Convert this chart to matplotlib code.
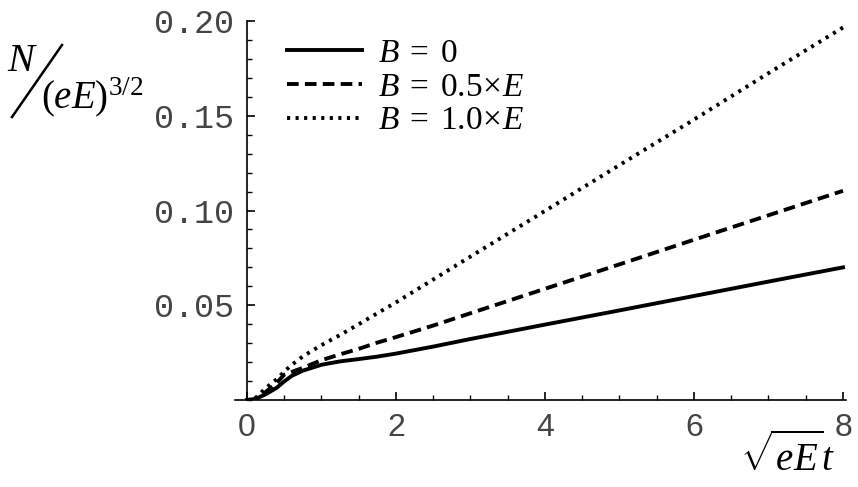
import matplotlib
matplotlib.use("Agg")
import matplotlib.pyplot as plt
from matplotlib.lines import Line2D
from matplotlib.ticker import MultipleLocator

# data
t = [0, 0.1, 0.25, 0.4, 0.5, 0.6, 0.75, 1.0, 1.25, 1.5, 1.75, 2.0, 2.5, 3, 4, 5, 6, 7, 8]
n_b0 = [0, 0.0003, 0.003, 0.0065, 0.0098, 0.0127, 0.0155, 0.0186, 0.0204, 0.0216,
        0.0229, 0.0245, 0.0282, 0.0322, 0.0398, 0.0473, 0.0549, 0.0625, 0.070]
n_b05 = [0, 0.0004, 0.0042, 0.009, 0.0134, 0.0148, 0.017, 0.021, 0.0241, 0.027,
         0.0303, 0.0332, 0.0393, 0.0458, 0.0587, 0.0716, 0.0846, 0.0975, 0.1104]
n_b10 = [0, 0.0005, 0.0062, 0.011, 0.015, 0.0185, 0.023, 0.029, 0.0343, 0.040,
         0.0458, 0.0515, 0.0636, 0.0757, 0.0998, 0.124, 0.148, 0.1725, 0.1966]
labels = [r"$B\;=\;0$", r"$B\;=\;0.5\!\times\! E$", r"$B\;=\;1.0\!\times\! E$"]
xticks = [0, 2, 4, 6, 8]
yticks = [0.05, 0.10, 0.15, 0.20]

plt.rcParams["mathtext.fontset"] = "custom"
plt.rcParams["mathtext.rm"] = "Liberation Serif"
plt.rcParams["mathtext.it"] = "Liberation Serif:italic"

fig = plt.figure(figsize=(8.58, 4.87), dpi=100)
ax = fig.add_axes([0.2879 - 12 / 858, 0.1786, 0.6946 + 15 / 858, 0.7782])

lw = 2.8
ax.plot(t, n_b0, color="black", lw=lw, label=labels[0])
ax.plot(t, n_b05, color="black", lw=lw, linestyle=(0, (3.0, 1.6)), label=labels[1])
ax.plot(t, n_b10, color="black", lw=lw, linestyle=(0, (0.8, 1.4)), label=labels[2])

ax.set_xlim(-0.16, 8.04)
ax.set_ylim(0, 0.2)
ax.spines["left"].set_position(("data", 0))
ax.spines["top"].set_visible(False)
ax.spines["right"].set_visible(False)
for s in ("left", "bottom"):
    ax.spines[s].set_linewidth(1.2)

ax.set_xticks(xticks)
ax.set_yticks(yticks)
ax.set_yticklabels([f"{v:.2f}" for v in yticks])
ax.xaxis.set_minor_locator(MultipleLocator(0.5))
ax.yaxis.set_minor_locator(MultipleLocator(0.01))
ax.tick_params(which="major", direction="in", length=6, width=1.2,
               labelcolor="#444444")
ax.tick_params(which="minor", direction="in", length=3.5, width=1.0)
ax.tick_params(axis="y", pad=9, labelsize=24)
ax.tick_params(axis="x", pad=9, labelsize=23)
for lab in ax.get_yticklabels():
    lab.set_family("Liberation Mono")
for lab in ax.get_xticklabels():
    lab.set_family("Liberation Sans")

leg = ax.legend(loc="upper left", bbox_to_anchor=(0.053, 1.013), frameon=False,
                fontsize=24, handlelength=2.25, handletextpad=0.48,
                labelspacing=0.02, borderaxespad=0.2)

# y label: N / (eE)^{3/2}
fig.text(23 / 858, 1 - 60 / 487, r"$N$", fontsize=29, ha="center", va="center")
fig.add_artist(Line2D([12 / 858, 62 / 858], [1 - 117 / 487, 1 - 45 / 487],
                      color="black", lw=1.8, transform=fig.transFigure))
fig.text(41 / 858, 1 - 97 / 487, r"$(eE)^{3/2}$", fontsize=28, ha="left", va="center")

# x label
fig.text(788 / 858, 1 - 456 / 487, r"$\sqrt{eE}t$", fontsize=28, ha="center", va="center")

fig.savefig("out.png", dpi=100, facecolor="white")
